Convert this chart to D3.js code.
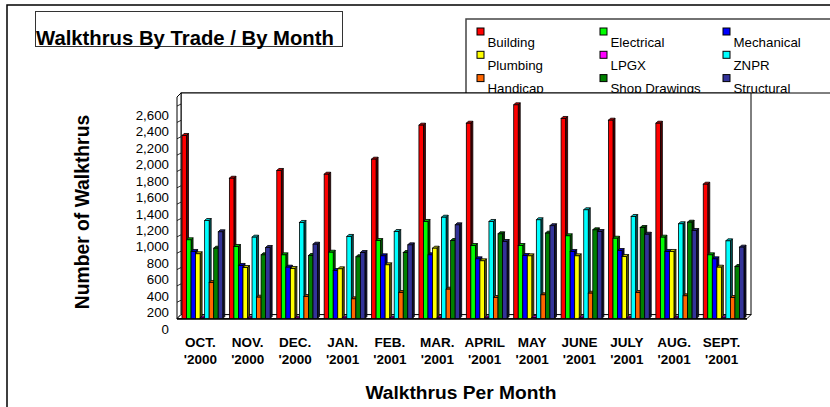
<!DOCTYPE html>
<html>
<head>
<meta charset="utf-8">
<script src="https://cdn.jsdelivr.net/npm/d3@7"></script>
<style>
  body { margin: 0; background: #fff; }
  text { font-family: "Liberation Sans", Arial, sans-serif; fill: #000; }
</style>
</head>
<body>
<div id="chart"></div>
<script>
var svgWidth = 830;
var svgHeight = 407;

// data
var months = ["OCT.", "NOV.", "DEC.", "JAN.", "FEB.", "MAR.", "APRIL", "MAY", "JUNE", "JULY", "AUG.", "SEPT."];
var years = ["'2000", "'2000", "'2000", "'2001", "'2001", "'2001", "'2001", "'2001", "'2001", "'2001", "'2001", "'2001"];

var seriesNames = ["Building", "Electrical", "Mechanical", "Plumbing", "LPGX", "ZNPR", "Handicap", "Shop Drawings", "Structural"];
var seriesColors = ["#ff0000", "#00ff00", "#0000ff", "#ffff00", "#ff00ff", "#00ffff", "#ff6600", "#008000", "#333399"];

var building     = [2240, 1717, 1812, 1766, 1950, 2366, 2390, 2615, 2448, 2427, 2390, 1644];
var electrical   = [964, 882, 780, 812, 955, 1188, 894, 894, 1013, 983, 996, 780];
var mechanical   = [821, 650, 629, 588, 768, 780, 731, 772, 821, 833, 821, 731];
var plumbing     = [793, 625, 613, 609, 658, 861, 707, 768, 768, 760, 821, 629];
var lpgx         = [8, 6, 5, 7, 6, 10, 8, 12, 9, 7, 6, 10];
var znpr         = [1200, 996, 1176, 1005, 1065, 1240, 1188, 1209, 1331, 1249, 1160, 951];
var handicap     = [442, 262, 270, 242, 319, 360, 258, 291, 311, 319, 279, 258];
var shopDrawings = [861, 780, 772, 756, 808, 955, 1037, 1045, 1086, 1114, 1179, 637];
var structural   = [1062, 870, 910, 808, 902, 1147, 943, 1136, 1065, 1032, 1078, 874];

var seriesValues = [building, electrical, mechanical, plumbing, lpgx, znpr, handicap, shopDrawings, structural];
var yTicks = [0, 200, 400, 600, 800, 1000, 1200, 1400, 1600, 1800, 2000, 2200, 2400, 2600];

// 3d depth offset
var depth = 4;
var barDepth = 2;
var floorY = 318.6;

var svg = d3.select("#chart")
  .append("svg")
  .attr("width", svgWidth)
  .attr("height", svgHeight);

// chart area border
svg.append("rect")
  .attr("x", 7).attr("y", 5)
  .attr("width", 840).attr("height", 420)
  .attr("fill", "#fff")
  .attr("stroke", "#000")
  .attr("stroke-width", 1.5);

// title
svg.append("rect")
  .attr("x", 35.5).attr("y", 11.5)
  .attr("width", 307).attr("height", 35)
  .attr("fill", "none")
  .attr("stroke", "#333")
  .attr("stroke-width", 1);

svg.append("text")
  .attr("x", 36).attr("y", 45)
  .style("font-size", "20.3px")
  .style("font-weight", "bold")
  .text("Walkthrus By Trade / By Month");

// legend
var legend = svg.append("g");
legend.append("rect")
  .attr("x", 466).attr("y", 19)
  .attr("width", 400).attr("height", 100)
  .attr("fill", "#fff")
  .attr("stroke", "#444")
  .attr("stroke-width", 1.5);

var legendItems = legend.selectAll("g.item")
  .data(seriesNames)
  .enter()
  .append("g")
  .attr("class", "item")
  .attr("transform", (d, i) => `translate(${477 + (i % 3) * 123}, ${28 + Math.floor(i / 3) * 23.3})`);

legendItems.append("rect")
  .attr("width", 7).attr("height", 7)
  .attr("fill", (d, i) => seriesColors[i])
  .attr("stroke", "#000")
  .attr("stroke-width", 1);

legendItems.append("text")
  .attr("x", 10.5).attr("y", 18.5)
  .style("font-size", "13.3px")
  .text(d => d);

// plot area covers the legend bottom
svg.append("rect")
  .attr("x", 178).attr("y", 93)
  .attr("width", 660).attr("height", 235)
  .attr("fill", "#fff");
svg.append("line")
  .attr("x1", 181).attr("x2", 830)
  .attr("y1", 93).attr("y2", 93)
  .attr("stroke", "#000");

// scales
var yScale = d3.scaleLinear()
  .domain([0, 2800])
  .range([floorY, floorY - 2800 * 0.08175]);

var yLabelScale = d3.scaleLinear()
  .domain([0, 2600])
  .range([329, 115]);

var xScale = d3.scaleBand()
  .domain(months)
  .range([182, 744])
  .paddingInner(0.14)
  .paddingOuter(0);

var xInner = d3.scaleBand()
  .domain(seriesNames)
  .range([0, xScale.bandwidth()]);

// walls
var wallTop = 93;
svg.append("rect")
  .attr("x", 181).attr("y", wallTop)
  .attr("width", 751 - 181).attr("height", floorY - depth - wallTop)
  .attr("fill", "#fff")
  .attr("stroke", "#000");

svg.append("path")
  .attr("d", `M177,${wallTop + depth}L181,${wallTop}L181,${floorY - depth}L177,${floorY}Z`)
  .attr("fill", "#fff")
  .attr("stroke", "#000");

svg.append("g")
  .selectAll("line")
  .data(yTicks.slice(1))
  .enter()
  .append("line")
  .attr("x1", 177).attr("x2", 181)
  .attr("y1", d => yScale(d))
  .attr("y2", d => yScale(d) - 2)
  .attr("stroke", "#000")
  .attr("stroke-width", 0.8);

// floor
svg.append("path")
  .attr("d", `M177,${floorY}L747,${floorY}L751,${floorY - depth}L181,${floorY - depth}Z`)
  .attr("fill", "#fff")
  .attr("stroke", "#000");
svg.append("line")
  .attr("x1", 177).attr("x2", 747)
  .attr("y1", floorY + 0.5).attr("y2", floorY + 0.5)
  .attr("stroke", "#000")
  .attr("stroke-width", 1.5);

// bars
var barData = [];
months.forEach(function(m, mi) {
  seriesNames.forEach(function(s, si) {
    barData.push({ month: m, series: s, color: seriesColors[si], value: seriesValues[si][mi] });
  });
});

var bw = xInner.bandwidth();
var bars = svg.append("g")
  .selectAll("g.bar")
  .data(barData)
  .enter()
  .append("g")
  .attr("class", "bar");

bars.append("path")
  .attr("d", function(d) {
    var x = xScale(d.month) + xInner(d.series) + bw;
    var y = yScale(d.value);
    return `M${x},${y}L${x + barDepth},${y - barDepth}L${x + barDepth},${floorY - barDepth}L${x},${floorY}Z`;
  })
  .attr("fill", d => d3.color(d.color).darker(3))
  .attr("stroke", "#000")
  .attr("stroke-width", 0.8);

bars.append("path")
  .attr("d", function(d) {
    var x = xScale(d.month) + xInner(d.series);
    var y = yScale(d.value);
    return `M${x},${y}L${x + barDepth},${y - barDepth}L${x + bw + barDepth},${y - barDepth}L${x + bw},${y}Z`;
  })
  .attr("fill", d => d3.color(d.color).darker(0.8))
  .attr("stroke", "#000")
  .attr("stroke-width", 0.8);

bars.append("rect")
  .attr("x", d => xScale(d.month) + xInner(d.series))
  .attr("y", d => yScale(d.value))
  .attr("width", bw)
  .attr("height", d => floorY - yScale(d.value))
  .attr("fill", d => d.color)
  .attr("stroke", "#000")
  .attr("stroke-width", 0.8);

// y axis labels
var leftAxis = d3.axisLeft(yLabelScale)
  .tickValues(yTicks)
  .tickSize(0)
  .tickPadding(0)
  .tickFormat(d3.format(","));

var yAxisG = svg.append("g")
  .attr("transform", "translate(169, 0)")
  .call(leftAxis);
yAxisG.select(".domain").remove();
yAxisG.selectAll("text")
  .style("font-size", "13.3px")
  .style("font-family", "'Liberation Sans', Arial, sans-serif")
  .attr("fill", "#000");

// x axis labels
var xLabels = svg.append("g")
  .selectAll("text")
  .data(months)
  .enter()
  .append("text")
  .attr("text-anchor", "middle")
  .style("font-size", "13.5px")
  .style("font-weight", "bold");

xLabels.append("tspan")
  .attr("x", d => xScale(d) + xScale.bandwidth() / 2 - 2)
  .attr("y", 346.5)
  .text(d => d);

xLabels.append("tspan")
  .attr("x", d => xScale(d) + xScale.bandwidth() / 2 - 2)
  .attr("y", 364)
  .text((d, i) => years[i]);

// axis titles
svg.append("text")
  .attr("transform", "translate(89, 212) rotate(-90)")
  .attr("text-anchor", "middle")
  .style("font-size", "19.3px")
  .style("font-weight", "bold")
  .text("Number of Walkthrus");

svg.append("text")
  .attr("x", 461).attr("y", 399)
  .attr("text-anchor", "middle")
  .style("font-size", "19.2px")
  .style("font-weight", "bold")
  .text("Walkthrus Per Month");
</script>
</body>
</html>
